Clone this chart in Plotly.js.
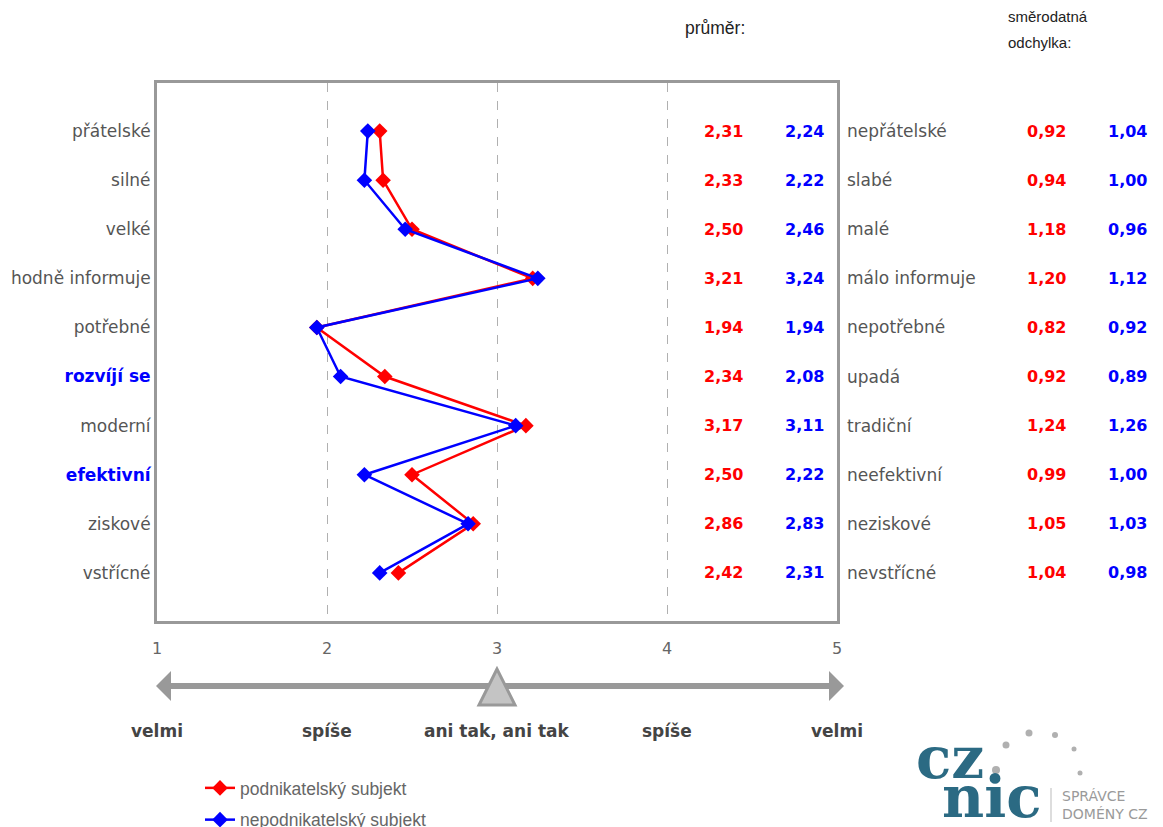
<!DOCTYPE html>
<html><head><meta charset="utf-8">
<script src="https://cdn.plot.ly/plotly-3.0.1.min.js"></script>
<style>html,body{margin:0;padding:0;background:#fff}#chart{width:1163px;height:827px}</style>
</head><body><div id="chart"></div>
<script>
// ---- data ----
const leftLabels = ['přátelské','silné','velké','hodně informuje','potřebné','rozvíjí se','moderní','efektivní','ziskové','vstřícné'];
const rightLabels = ['nepřátelské','slabé','malé','málo informuje','nepotřebné','upadá','tradiční','neefektivní','neziskové','nevstřícné'];
const highlighted = ['rozvíjí se','efektivní'];
const seriesNames = ['podnikatelský subjekt','nepodnikatelský subjekt'];
const meanFirm    = [2.31,2.33,2.50,3.21,1.94,2.34,3.17,2.50,2.86,2.42];
const meanNonFirm = [2.24,2.22,2.46,3.24,1.94,2.08,3.11,2.22,2.83,2.31];
const sdFirm      = [0.92,0.94,1.18,1.20,0.82,0.92,1.24,0.99,1.05,1.04];
const sdNonFirm   = [1.04,1.00,0.96,1.12,0.92,0.89,1.26,1.00,1.03,0.98];
const scaleTicks  = [1,2,3,4,5];
const scaleLabels = ['velmi','spíše','ani tak, ani tak','spíše','velmi'];
const headerMean = 'průměr:';
const headerSd = ['směrodatná','odchylka:'];
const logoTop = 'cz', logoBottom = 'nic', logoSub = ['SPRÁVCE','DOMÉNY CZ'];

// ---- styles / layout helpers ----
const RED = '#ff0000', BLUE = '#0000ff';
const FONT = '"DejaVu Sans", sans-serif';
const ARIAL = '"Liberation Sans", Arial, sans-serif';
const L = 157, T = 83, W = 680, H = 538;
const px = x => (x - L) / W;
const py = y => (T + H - y) / H;
const fmt = v => v.toFixed(2).replace('.', ',');
const idx = leftLabels.map((_, i) => i);

const ticktext = leftLabels.map(s => highlighted.includes(s)
  ? '<b><span style="color:' + BLUE + '">' + s + '</span></b>' : s);

const traces = [
  {x: meanFirm, y: idx, name: seriesNames[0], mode: 'lines+markers', legendgroup: 'a',
   line: {color: RED, width: 2.5}, marker: {symbol: 'diamond', size: 12, color: RED}},
  {x: meanNonFirm, y: idx, name: seriesNames[1], mode: 'lines+markers', legendgroup: 'b',
   line: {color: BLUE, width: 2.5}, marker: {symbol: 'diamond', size: 12, color: BLUE}}
];

const ann = [];
const A = o => ann.push(Object.assign({showarrow: false, yanchor: 'middle'}, o));
idx.forEach(i => {
  A({xref: 'paper', yref: 'y', x: px(745), y: i, xanchor: 'right', text: '<b>' + fmt(meanFirm[i]) + '</b>', font: {family: FONT, size: 16, color: RED}});
  A({xref: 'paper', yref: 'y', x: px(826), y: i, xanchor: 'right', text: '<b>' + fmt(meanNonFirm[i]) + '</b>', font: {family: FONT, size: 16, color: BLUE}});
  A({xref: 'paper', yref: 'y', x: px(845), y: i, xanchor: 'left', text: rightLabels[i], font: {family: FONT, size: 17, color: '#555'}});
  A({xref: 'paper', yref: 'y', x: px(1068), y: i, xanchor: 'right', text: '<b>' + fmt(sdFirm[i]) + '</b>', font: {family: FONT, size: 16, color: RED}});
  A({xref: 'paper', yref: 'y', x: px(1149), y: i, xanchor: 'right', text: '<b>' + fmt(sdNonFirm[i]) + '</b>', font: {family: FONT, size: 16, color: BLUE}});
});
scaleTicks.forEach((t, k) => {
  A({xref: 'x', yref: 'paper', x: t, y: py(731), xanchor: 'center', text: '<b>' + scaleLabels[k] + '</b>', font: {family: FONT, size: 17, color: '#444'}});
});
A({xref: 'paper', yref: 'paper', x: px(683), y: py(28), xanchor: 'left', text: headerMean, font: {family: ARIAL, size: 17.5, color: '#222'}});
A({xref: 'paper', yref: 'paper', x: px(1006), y: py(17), xanchor: 'left', text: headerSd[0], font: {family: ARIAL, size: 15, color: '#222'}});
A({xref: 'paper', yref: 'paper', x: px(1006), y: py(42), xanchor: 'left', text: headerSd[1], font: {family: ARIAL, size: 15, color: '#222'}});
// logo
A({xref: 'paper', yref: 'paper', x: px(914), y: py(758), xanchor: 'left', text: '<b>' + logoTop + '</b>', font: {family: '"DejaVu Serif", serif', size: 58, color: '#2b6a83'}});
A({xref: 'paper', yref: 'paper', x: px(940), y: py(797), xanchor: 'left', text: '<b>' + logoBottom + '</b>', font: {family: '"DejaVu Serif", serif', size: 58, color: '#2b6a83'}});
A({xref: 'paper', yref: 'paper', x: px(1060), y: py(796), xanchor: 'left', text: logoSub[0], font: {family: FONT, size: 14, color: '#9a9a9a'}});
A({xref: 'paper', yref: 'paper', x: px(1060), y: py(814), xanchor: 'left', text: logoSub[1], font: {family: FONT, size: 14, color: '#9a9a9a'}});

const shapes = [
  {type: 'line', xref: 'paper', yref: 'paper', x0: px(166), x1: px(834), y0: py(686), y1: py(686), line: {color: '#999', width: 6}},
  {type: 'path', xref: 'paper', yref: 'paper', path: `M${px(156)},${py(686)} L${px(171)},${py(671)} L${px(171)},${py(701)} Z`, fillcolor: '#999', line: {width: 0}},
  {type: 'path', xref: 'paper', yref: 'paper', path: `M${px(844)},${py(686)} L${px(829)},${py(671)} L${px(829)},${py(701)} Z`, fillcolor: '#999', line: {width: 0}},
  {type: 'path', xref: 'paper', yref: 'paper', path: `M${px(497)},${py(669)} L${px(479)},${py(705)} L${px(515)},${py(705)} Z`, fillcolor: '#c4c4c4', line: {color: '#999', width: 3}},
  {type: 'line', xref: 'paper', yref: 'paper', x0: px(1051), x1: px(1051), y0: py(788), y1: py(822), line: {color: '#bbb', width: 1}}
];
const dots = [[1029,733,3.5],[1055,735,3],[1006,745,3.5],[1074,749,2.5],[996,770,4],[1080,773,2.5]];
dots.forEach(d => shapes.push({type: 'circle', xref: 'paper', yref: 'paper',
  x0: px(d[0]-d[2]), x1: px(d[0]+d[2]), y0: py(d[1]+d[2]), y1: py(d[1]-d[2]), fillcolor: '#b0b0b0', line: {width: 0}}));

const layout = {
  width: 1163, height: 827,
  margin: {l: L, r: 1163 - L - W, t: T, b: 827 - T - H, pad: 0, autoexpand: false},
  paper_bgcolor: '#fff', plot_bgcolor: '#fff',
  showlegend: true,
  legend: {x: px(200), y: py(770), xanchor: 'left', yanchor: 'top', traceorder: 'grouped', tracegroupgap: 6,
           font: {family: ARIAL, size: 17.5, color: '#666'}, bgcolor: 'rgba(0,0,0,0)'},
  xaxis: {range: [1, 5], tickvals: scaleTicks, showgrid: true, gridcolor: '#b0b0b0', griddash: 'dash', gridwidth: 1,
          zeroline: false, showline: true, mirror: true, linecolor: '#999', linewidth: 3,
          ticks: '', ticklabelstandoff: 11, tickfont: {family: FONT, size: 16, color: '#666'}},
  yaxis: {range: [9.98, -0.98], tickvals: idx, ticktext: ticktext, showgrid: false, zeroline: false,
          showline: true, mirror: true, linecolor: '#999', linewidth: 3, ticks: '', ticklabelstandoff: 0,
          tickfont: {family: FONT, size: 17, color: '#555'}},
  annotations: ann, shapes: shapes
};
Plotly.newPlot('chart', traces, layout, {displayModeBar: false, staticPlot: true});
</script></body></html>
